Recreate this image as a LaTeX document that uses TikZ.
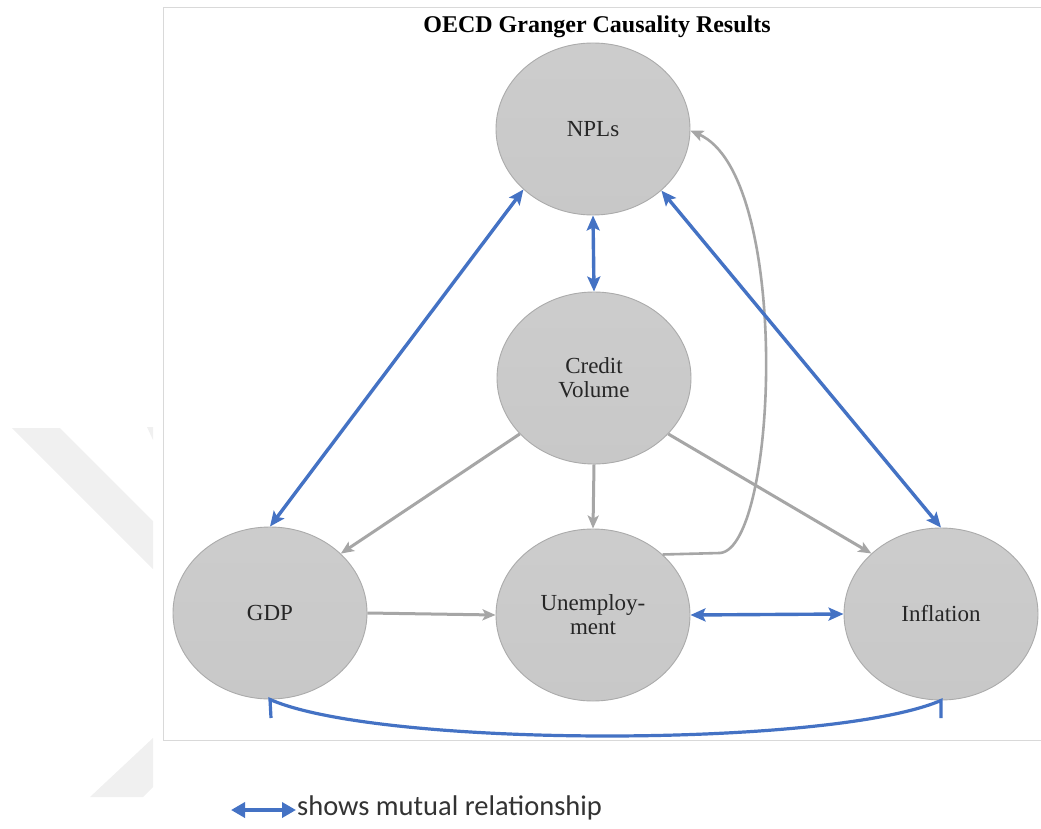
\documentclass[tikz,border=0pt]{standalone}
\usepackage{fontspec}
\setmainfont{Liberation Serif}
\newfontfamily\legendfont{Carlito}
\usetikzlibrary{arrows.meta,shapes.geometric}
\definecolor{nodefill}{HTML}{C8C8C8}
\definecolor{nodeline}{HTML}{ABABAB}
\definecolor{mutual}{HTML}{4472C4}
\definecolor{oneway}{HTML}{A6A6A6}
\definecolor{framegray}{HTML}{D9D9D9}
\definecolor{markgray}{HTML}{F0F0F0}
\tikzset{
  var/.style={ellipse, minimum width=194pt, minimum height=172pt, inner sep=0pt,
    top color=nodefill!92!white, bottom color=nodefill, draw=nodeline, line width=0.9pt,
    font=\fontsize{23}{27}\selectfont, text=black!85, align=center},
  twoway/.style={draw=mutual, line width=3.4pt, {Stealth[length=15pt,width=13pt,inset=3pt]}-{Stealth[length=15pt,width=13pt,inset=3pt]}},
  causes/.style={draw=oneway, line width=3pt, -{Stealth[length=13pt,width=11pt,inset=3pt]}},
}
\begin{document}
\begin{tikzpicture}[x=1pt,y=-1pt]
\useasboundingbox (0,0) rectangle (1041,829);
% faint background mark on the left
\fill[markgray] (12,428) -- (60,428) -- (153,521) -- (153,569) -- cycle;
\fill[markgray] (147,427) -- (153,427) -- (153,440) -- cycle;
\fill[markgray] (90,797) -- (143,797) -- (153,787) -- (153,738) -- cycle;
% frame
\draw[framegray, line width=1pt, fill=white] (163,8) rectangle (1050,740);
% title
\node[font=\bfseries\fontsize{24}{28}\selectfont] (title) at (597,27) {OECD Granger Causality Results};
% variables
\node[var] (npl) at (593,129) {NPLs};
\node[var] (cv) at (594,378) {Credit\\[-3pt]Volume};
\node[var] (gdp) at (270,613) {GDP};
\node[var] (un) at (593,615) {Unemploy-\\[-3pt]ment};
\node[var] (inf) at (941,614) {Inflation};
% one-way causality
\draw[causes] (cv.217) -- (gdp.40);
\draw[causes] (cv.270) -- (un.90);
\draw[causes] (cv.-37) -- (inf.139);
\draw[causes] (gdp.0) -- (un.180);
\coordinate (bend) at (720,553);
\draw[causes, line width=2.6pt] (un.41) -- (bend) .. controls (778,548) and (792,175) .. (npl.-1);
% mutual relationships
\draw[twoway] (gdp.90) -- (npl.221);
\draw[twoway] (npl.270) -- (cv.90);
\draw[twoway] (npl.-42) -- (inf.90);
\draw[twoway] (un.0) -- (inf.180);
% mutual relationship between GDP and Inflation along the bottom
\coordinate (gtick) at (271,718);
\coordinate (itick) at (941,718);
\draw[mutual, line width=3.2pt] (gtick) -- (gdp.270) .. controls (380,748) and (830,748) .. (inf.270) -- (itick);
% legend
\coordinate (legA) at (231,810);
\coordinate (legB) at (296,810);
\draw[mutual, line width=4pt, {Triangle[length=14pt,width=15pt]}-{Triangle[length=14pt,width=15pt]}] (legA) -- (legB);
\node[anchor=west, font=\legendfont\fontsize{28.5}{32}\selectfont, text=black!80, inner sep=0pt] (legtext) at (297,808) {shows mutual relationship};
\end{tikzpicture}
\end{document}
